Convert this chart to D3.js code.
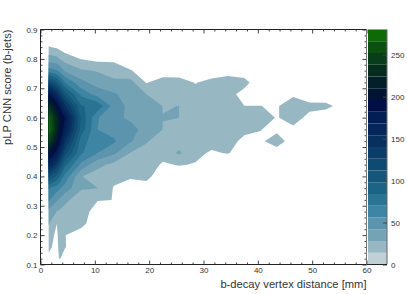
<!doctype html>
<html lang="en">
<head>
<meta charset="utf-8">
<title>pLP CNN score vs b-decay vertex distance</title>
<script src="https://d3js.org/d3.v7.min.js"></script>
<style>
    html, body { margin: 0; padding: 0; background: #fff; }
    svg { display: block; }
    text { font-family: "Liberation Sans", Arial, sans-serif; fill: #333; }
    .domain { display: none; }
    .tick line { stroke: #444; stroke-width: 1px; }
</style>
</head>
<body>
<svg width="407" height="294"></svg>
<script>
// bin centres of the histogram (mm / score)
var xCenters = [1.5, 3, 3.5, 4.5, 7.5, 10.5, 13.5, 16.5, 19.5, 22.5, 25.5, 28.5, 31.5, 34.5, 37.5, 40.5, 43.5, 46.5, 49.5, 52.5, 55.5, 58.5];
var yCenters = [0.12, 0.16, 0.20, 0.24, 0.28, 0.32, 0.36, 0.40, 0.44, 0.48, 0.52, 0.56, 0.60, 0.64, 0.68, 0.72, 0.76, 0.80, 0.84, 0.88];

// counts, one row per yCenters entry
var counts = [
    [10, 10, 15, 8, 0, 0, 0, 0, 0, 0, 0, 0, 0, 0, 0, 0, 0, 0, 0, 0, 0, 0],
    [18, 8, 20, 15, 0, 0, 0, 0, 0, 0, 0, 0, 0, 0, 0, 0, 0, 0, 0, 0, 0, 0],
    [22, 10, 22, 14.3, 8, 0, 0, 0, 0, 0, 0, 0, 0, 0, 0, 0, 0, 0, 0, 0, 0, 0],
    [29, 14.2, 22, 19, 18, 5, 0, 0, 0, 0, 0, 0, 0, 0, 0, 0, 0, 0, 0, 0, 0, 0],
    [38, 27.5, 26, 22, 20, 8, 0, 0, 0, 0, 0, 0, 0, 0, 0, 0, 0, 0, 0, 0, 0, 0],
    [58, 44, 40, 32, 18, 14.6, 13.9, 0, 0, 0, 0, 0, 0, 0, 0, 0, 0, 0, 0, 0, 0, 0],
    [72, 62, 58, 50, 30, 28.1, 13, 7, 8, 0, 0, 0, 0, 0, 0, 0, 0, 0, 0, 0, 0, 0],
    [115, 95, 85, 65, 28.5, 22, 18, 16, 18, 5, 5, 0, 0, 0, 0, 0, 0, 0, 0, 0, 0, 0],
    [165, 135, 118, 88, 52, 32, 24, 20, 22, 12, 15, 13, 2, 3, 0, 0, 0, 0, 0, 0, 0, 0],
    [210, 175, 155, 118, 72, 56, 45, 27.7, 24, 20, 30, 18, 12, 15, 6, 2, 8, 3, 0, 0, 0, 0],
    [252, 205, 188, 145, 76, 60, 58, 44, 29, 22, 22, 20, 20, 20, 10, 12, 20, 8, 2, 0, 0, 0],
    [278, 225, 205, 170, 92, 56, 50, 46, 38, 27.9, 24, 22, 22, 22, 18, 14.3, 11, 11, 3, 1, 0, 0],
    [274, 225, 208, 182, 95, 57, 45, 40, 36, 28.05, 28.02, 20, 22, 24, 24, 22, 13, 20, 10, 5, 2, 0],
    [240, 195, 178, 145, 85, 80, 50, 38, 32, 27.9, 28.02, 20, 20, 20, 14.1, 14.1, 13, 20, 18, 18, 9, 0],
    [190, 150, 135, 105, 66, 50, 44, 35, 28, 24, 24, 20, 22, 20, 8, 2, 1, 12, 4, 3, 1, 0],
    [125, 100, 90, 70, 46, 36, 30, 33, 13, 22, 22, 13, 20, 25, 20, 2, 0, 0, 0, 0, 0, 0],
    [62, 57, 52, 40, 30, 27, 24, 15, 8, 4, 3, 2, 2, 5, 4, 0, 0, 0, 0, 0, 0, 0],
    [35, 32, 28, 22, 13.5, 10, 10, 5, 2, 1, 0, 0, 0, 0, 0, 0, 0, 0, 0, 0, 0, 0],
    [15, 12, 10, 6, 0, 0, 0, 0, 0, 0, 0, 0, 0, 0, 0, 0, 0, 0, 0, 0, 0, 0],
    [0, 0, 0, 0, 0, 0, 0, 0, 0, 0, 0, 0, 0, 0, 0, 0, 0, 0, 0, 0, 0, 0]
];

// contour levels and the palette of the colour bar, bottom to top
var levels = [0, 14, 28, 42, 56, 70, 84, 98, 112, 126, 140, 154, 168, 182, 196, 210, 224, 238, 252, 266];
var bandColors = ["#bfd0d7", "#97b7c3", "#74a3b5", "#5b94ac", "#3d85a3", "#2a7393", "#1b6485", "#14577a",
    "#0e4a72", "#0a3d69", "#07305f", "#052659", "#031d55", "#020f47", "#021433", "#03202a",
    "#052c1e", "#083c1a", "#0b5010", "#0e6a06"];
var zMax = 280;

var xTicks = [0, 10, 20, 30, 40, 50, 60];
var xMinor = [2, 4, 6, 8, 12, 14, 16, 18, 22, 24, 26, 28, 32, 34, 36, 38, 42, 44, 46, 48, 52, 54, 56, 58];
var yTicks = [0.1, 0.2, 0.3, 0.4, 0.5, 0.6, 0.7, 0.8, 0.9];
var yMinor = [0.12, 0.14, 0.16, 0.18, 0.22, 0.24, 0.26, 0.28, 0.32, 0.34, 0.36, 0.38, 0.42, 0.44, 0.46, 0.48,
    0.52, 0.54, 0.56, 0.58, 0.62, 0.64, 0.66, 0.68, 0.72, 0.74, 0.76, 0.78, 0.82, 0.84, 0.86, 0.88];
var zTicks = [0, 50, 100, 150, 200, 250];

var margin = {left: 40.5, top: 29.5, right: 40.5, bottom: 29.5};
var svg = d3.select("svg");
var width = 407 - margin.left - margin.right;
var height = 294 - margin.top - margin.bottom;

var xScale = d3.scaleLinear().domain([0, 60]).range([0, width]);
var yScale = d3.scaleLinear().domain([0.1, 0.9]).range([height, 0]);

var plot = svg.append("g").attr("transform", "translate(" + margin.left + "," + margin.top + ")");

// grid index -> data coordinate (d3.contours puts value i at i + 0.5)
var gridX = d3.scaleLinear().domain(xCenters.map(function(d, i) { return i + 0.5; })).range(xCenters);
var gridY = d3.scaleLinear().domain(yCenters.map(function(d, i) { return i + 0.5; })).range(yCenters);
var project = d3.geoTransform({
    point: function(x, y) { this.stream.point(xScale(gridX(x)), yScale(gridY(y))); }
});
var path = d3.geoPath(project);

var contours = d3.contours()
    .size([xCenters.length, yCenters.length])
    .thresholds(levels.slice(1))(d3.merge(counts));

// the filled area stops at the outermost bin centres
svg.append("clipPath").attr("id", "binArea").append("rect")
    .attr("x", xScale(xCenters[0]))
    .attr("y", yScale(yCenters[yCenters.length - 1]))
    .attr("width", xScale(xCenters[xCenters.length - 1]) - xScale(xCenters[0]))
    .attr("height", yScale(yCenters[0]) - yScale(yCenters[yCenters.length - 1]));

plot.append("g")
    .attr("clip-path", "url(#binArea)")
    .selectAll("path")
    .data(contours)
    .enter().append("path")
    .attr("d", path)
    .attr("fill", function(d, i) { return bandColors[i + 1]; });

// axes: ROOT draws ticks inward on all four sides
function ticks(axis, vals, size, fmt) {
    return axis.tickValues(vals).tickSize(size).tickPadding(3).tickFormat(fmt);
}
var none = function() { return ""; };

plot.append("g").attr("transform", "translate(0," + height + ")")
    .call(ticks(d3.axisBottom(xScale), xTicks, -4, d3.format("d")));
plot.append("g").attr("transform", "translate(0," + height + ")")
    .call(ticks(d3.axisBottom(xScale), xMinor, -2, none));
plot.append("g").call(ticks(d3.axisTop(xScale), xTicks, -4, none));
plot.append("g").call(ticks(d3.axisTop(xScale), xMinor, -2, none));
plot.append("g")
    .call(ticks(d3.axisLeft(yScale), yTicks, -4, d3.format(".1f")));
plot.append("g").call(ticks(d3.axisLeft(yScale), yMinor, -2, none));
plot.append("g").attr("transform", "translate(" + width + ",0)")
    .call(ticks(d3.axisRight(yScale), yTicks, -4, none));
plot.append("g").attr("transform", "translate(" + width + ",0)")
    .call(ticks(d3.axisRight(yScale), yMinor, -2, none));

plot.selectAll("g text").attr("font-size", 8).attr("fill", "#333");
plot.selectAll(".tick line").attr("stroke", "#444");

// colour bar
var zScale = d3.scaleLinear().domain([0, zMax]).range([height, 0]);
var barX = width + 1.5, barW = 19;
var bar = plot.append("g").attr("transform", "translate(" + barX + ",0)");
bar.selectAll("rect")
    .data(levels)
    .enter().append("rect")
    .attr("x", 0)
    .attr("width", barW)
    .attr("y", function(d, i) { return zScale(i + 1 < levels.length ? levels[i + 1] : zMax); })
    .attr("height", function(d, i) { return zScale(d) - zScale(i + 1 < levels.length ? levels[i + 1] : zMax); })
    .attr("fill", function(d, i) { return bandColors[i]; });
bar.append("line").attr("x1", barW).attr("x2", barW).attr("y1", 0).attr("y2", height)
    .attr("stroke", "#666").attr("stroke-width", 1);
var zAxis = bar.append("g").attr("transform", "translate(" + barW + ",0)")
    .call(d3.axisRight(zScale).tickValues(zTicks).tickSize(-4).tickPadding(4).tickFormat(d3.format("d")));
zAxis.selectAll("text").attr("font-size", 8).attr("fill", "#333");
zAxis.selectAll("line").attr("stroke", "#222");

// frame
plot.append("line").attr("x1", 0).attr("x2", width).attr("y1", 0).attr("y2", 0).attr("stroke", "#222");
plot.append("line").attr("x1", 0).attr("x2", width + 1.5 + barW).attr("y1", height).attr("y2", height).attr("stroke", "#222");
plot.append("line").attr("x1", 0).attr("x2", 0).attr("y1", 0).attr("y2", height).attr("stroke", "#222");
plot.append("line").attr("x1", width).attr("x2", width).attr("y1", 0).attr("y2", height).attr("stroke", "#777");

// axis titles
svg.append("text")
    .attr("x", margin.left + width)
    .attr("y", 288)
    .attr("text-anchor", "end")
    .attr("font-size", 11.2)
    .text("b-decay vertex distance [mm]");
svg.append("text")
    .attr("transform", "translate(10.5," + margin.top + ") rotate(-90)")
    .attr("text-anchor", "end")
    .attr("font-size", 11.2)
    .text("pLP CNN score (b-jets)");
</script>
</body>
</html>
